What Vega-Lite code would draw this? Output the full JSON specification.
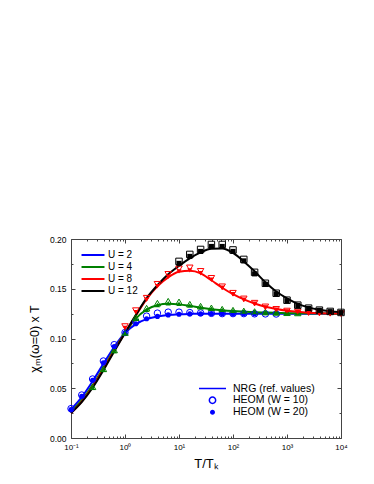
{
  "$schema": "https://vega.github.io/schema/vega-lite/v6.json",
  "width": 270,
  "height": 199,
  "autosize": "none",
  "padding": {"left": 71, "top": 239, "right": 33, "bottom": 46},
  "background": "white",
  "config": {
    "font": "Liberation Sans",
    "view": {"stroke": null},
    "axis": {"grid": false, "domainColor": "#444", "tickColor": "#444", "labelColor": "black", "titleColor": "black", "titleFontWeight": "normal", "labelFont": "Liberation Sans", "titleFont": "Liberation Sans"},
    "legend": {"labelFont": "Liberation Sans", "labelColor": "black"}
  },
  "datasets": {
    "lines": [
      {"U": "U = 2", "x": 0.1, "v": 0.0285}, {"U": "U = 2", "x": 0.158, "v": 0.041}, {"U": "U = 2", "x": 0.251, "v": 0.057}, {"U": "U = 2", "x": 0.398, "v": 0.0745}, {"U": "U = 2", "x": 0.631, "v": 0.0915}, {"U": "U = 2", "x": 1, "v": 0.1055}, {"U": "U = 2", "x": 1.585, "v": 0.1145}, {"U": "U = 2", "x": 2.512, "v": 0.1195}, {"U": "U = 2", "x": 3.981, "v": 0.122}, {"U": "U = 2", "x": 6.31, "v": 0.1235}, {"U": "U = 2", "x": 10, "v": 0.1243}, {"U": "U = 2", "x": 15.85, "v": 0.1247}, {"U": "U = 2", "x": 25.12, "v": 0.1249}, {"U": "U = 2", "x": 39.81, "v": 0.125}, {"U": "U = 2", "x": 63.1, "v": 0.125}, {"U": "U = 2", "x": 100, "v": 0.125}, {"U": "U = 2", "x": 158.5, "v": 0.125}, {"U": "U = 2", "x": 251.2, "v": 0.125}, {"U": "U = 2", "x": 398.1, "v": 0.125}, {"U": "U = 2", "x": 631, "v": 0.125}, {"U": "U = 2", "x": 1000, "v": 0.125}, {"U": "U = 2", "x": 1585, "v": 0.125}, {"U": "U = 2", "x": 2512, "v": 0.125}, {"U": "U = 2", "x": 3981, "v": 0.125}, {"U": "U = 2", "x": 6310, "v": 0.125}, {"U": "U = 2", "x": 10000, "v": 0.125},
      {"U": "U = 4", "x": 0.1, "v": 0.026}, {"U": "U = 4", "x": 0.158, "v": 0.038}, {"U": "U = 4", "x": 0.251, "v": 0.053}, {"U": "U = 4", "x": 0.398, "v": 0.0705}, {"U": "U = 4", "x": 0.631, "v": 0.089}, {"U": "U = 4", "x": 1, "v": 0.1055}, {"U": "U = 4", "x": 1.585, "v": 0.12}, {"U": "U = 4", "x": 2.512, "v": 0.129}, {"U": "U = 4", "x": 3.981, "v": 0.1335}, {"U": "U = 4", "x": 6.31, "v": 0.1348}, {"U": "U = 4", "x": 10, "v": 0.1343}, {"U": "U = 4", "x": 15.85, "v": 0.1328}, {"U": "U = 4", "x": 25.12, "v": 0.131}, {"U": "U = 4", "x": 39.81, "v": 0.1295}, {"U": "U = 4", "x": 63.1, "v": 0.1284}, {"U": "U = 4", "x": 100, "v": 0.1276}, {"U": "U = 4", "x": 158.5, "v": 0.127}, {"U": "U = 4", "x": 251.2, "v": 0.1265}, {"U": "U = 4", "x": 398.1, "v": 0.1261}, {"U": "U = 4", "x": 631, "v": 0.1258}, {"U": "U = 4", "x": 1000, "v": 0.1255}, {"U": "U = 4", "x": 1585, "v": 0.1253}, {"U": "U = 4", "x": 2512, "v": 0.1252}, {"U": "U = 4", "x": 3981, "v": 0.1251}, {"U": "U = 4", "x": 6310, "v": 0.125}, {"U": "U = 4", "x": 10000, "v": 0.125},
      {"U": "U = 8", "x": 0.1, "v": 0.025}, {"U": "U = 8", "x": 0.158, "v": 0.0365}, {"U": "U = 8", "x": 0.251, "v": 0.0515}, {"U": "U = 8", "x": 0.398, "v": 0.069}, {"U": "U = 8", "x": 0.631, "v": 0.088}, {"U": "U = 8", "x": 1, "v": 0.1055}, {"U": "U = 8", "x": 1.585, "v": 0.123}, {"U": "U = 8", "x": 2.512, "v": 0.1395}, {"U": "U = 8", "x": 3.981, "v": 0.1525}, {"U": "U = 8", "x": 6.31, "v": 0.1615}, {"U": "U = 8", "x": 10, "v": 0.167}, {"U": "U = 8", "x": 15.85, "v": 0.168}, {"U": "U = 8", "x": 25.12, "v": 0.1655}, {"U": "U = 8", "x": 39.81, "v": 0.1585}, {"U": "U = 8", "x": 63.1, "v": 0.151}, {"U": "U = 8", "x": 100, "v": 0.1445}, {"U": "U = 8", "x": 158.5, "v": 0.1393}, {"U": "U = 8", "x": 251.2, "v": 0.1352}, {"U": "U = 8", "x": 398.1, "v": 0.132}, {"U": "U = 8", "x": 631, "v": 0.1297}, {"U": "U = 8", "x": 1000, "v": 0.128}, {"U": "U = 8", "x": 1585, "v": 0.1268}, {"U": "U = 8", "x": 2512, "v": 0.126}, {"U": "U = 8", "x": 3981, "v": 0.1255}, {"U": "U = 8", "x": 6310, "v": 0.1252}, {"U": "U = 8", "x": 10000, "v": 0.125},
      {"U": "U = 12", "x": 0.1, "v": 0.025}, {"U": "U = 12", "x": 0.158, "v": 0.036}, {"U": "U = 12", "x": 0.251, "v": 0.0505}, {"U": "U = 12", "x": 0.398, "v": 0.068}, {"U": "U = 12", "x": 0.631, "v": 0.087}, {"U": "U = 12", "x": 1, "v": 0.1055}, {"U": "U = 12", "x": 1.585, "v": 0.1235}, {"U": "U = 12", "x": 2.512, "v": 0.1405}, {"U": "U = 12", "x": 3.981, "v": 0.1535}, {"U": "U = 12", "x": 6.31, "v": 0.1645}, {"U": "U = 12", "x": 10, "v": 0.173}, {"U": "U = 12", "x": 15.85, "v": 0.1805}, {"U": "U = 12", "x": 25.12, "v": 0.1865}, {"U": "U = 12", "x": 39.81, "v": 0.1902}, {"U": "U = 12", "x": 63.1, "v": 0.1905}, {"U": "U = 12", "x": 100, "v": 0.186}, {"U": "U = 12", "x": 158.5, "v": 0.1775}, {"U": "U = 12", "x": 251.2, "v": 0.1675}, {"U": "U = 12", "x": 398.1, "v": 0.1565}, {"U": "U = 12", "x": 631, "v": 0.1472}, {"U": "U = 12", "x": 1000, "v": 0.1403}, {"U": "U = 12", "x": 1585, "v": 0.1348}, {"U": "U = 12", "x": 2512, "v": 0.1313}, {"U": "U = 12", "x": 3981, "v": 0.129}, {"U": "U = 12", "x": 6310, "v": 0.1275}, {"U": "U = 12", "x": 10000, "v": 0.1265}
    ],
    "pts": [
      {"U": "U = 2", "W": 10, "x": 0.1, "v": 0.0295}, {"U": "U = 2", "W": 10, "x": 0.158, "v": 0.0432}, {"U": "U = 2", "W": 10, "x": 0.251, "v": 0.0593}, {"U": "U = 2", "W": 10, "x": 0.398, "v": 0.0774}, {"U": "U = 2", "W": 10, "x": 0.631, "v": 0.0938}, {"U": "U = 2", "W": 10, "x": 1, "v": 0.106}, {"U": "U = 2", "W": 10, "x": 1.585, "v": 0.1165}, {"U": "U = 2", "W": 10, "x": 2.512, "v": 0.1225}, {"U": "U = 2", "W": 10, "x": 3.981, "v": 0.1255}, {"U": "U = 2", "W": 10, "x": 6.31, "v": 0.1265}, {"U": "U = 2", "W": 10, "x": 10, "v": 0.1265}, {"U": "U = 2", "W": 10, "x": 15.85, "v": 0.126}, {"U": "U = 2", "W": 10, "x": 25.12, "v": 0.1257}, {"U": "U = 2", "W": 10, "x": 39.81, "v": 0.1253}, {"U": "U = 2", "W": 10, "x": 63.1, "v": 0.125}, {"U": "U = 2", "W": 10, "x": 100, "v": 0.125}, {"U": "U = 2", "W": 10, "x": 158.5, "v": 0.125}, {"U": "U = 2", "W": 10, "x": 251.2, "v": 0.1248}, {"U": "U = 2", "W": 10, "x": 398.1, "v": 0.1247}, {"U": "U = 2", "W": 10, "x": 631, "v": 0.1246},
      {"U": "U = 2", "W": 20, "x": 0.1, "v": 0.0285}, {"U": "U = 2", "W": 20, "x": 0.158, "v": 0.042}, {"U": "U = 2", "W": 20, "x": 0.251, "v": 0.058}, {"U": "U = 2", "W": 20, "x": 0.398, "v": 0.0755}, {"U": "U = 2", "W": 20, "x": 0.631, "v": 0.092}, {"U": "U = 2", "W": 20, "x": 1, "v": 0.1055}, {"U": "U = 2", "W": 20, "x": 1.585, "v": 0.1148}, {"U": "U = 2", "W": 20, "x": 2.512, "v": 0.1198}, {"U": "U = 2", "W": 20, "x": 3.981, "v": 0.1222}, {"U": "U = 2", "W": 20, "x": 6.31, "v": 0.1237}, {"U": "U = 2", "W": 20, "x": 10, "v": 0.1244}, {"U": "U = 2", "W": 20, "x": 15.85, "v": 0.1247}, {"U": "U = 2", "W": 20, "x": 25.12, "v": 0.1249}, {"U": "U = 2", "W": 20, "x": 39.81, "v": 0.125}, {"U": "U = 2", "W": 20, "x": 63.1, "v": 0.125}, {"U": "U = 2", "W": 20, "x": 100, "v": 0.125}, {"U": "U = 2", "W": 20, "x": 158.5, "v": 0.125}, {"U": "U = 2", "W": 20, "x": 251.2, "v": 0.125},
      {"U": "U = 4", "W": 10, "x": 0.251, "v": 0.0515}, {"U": "U = 4", "W": 10, "x": 0.398, "v": 0.0695}, {"U": "U = 4", "W": 10, "x": 0.631, "v": 0.0885}, {"U": "U = 4", "W": 10, "x": 1, "v": 0.106}, {"U": "U = 4", "W": 10, "x": 1.585, "v": 0.121}, {"U": "U = 4", "W": 10, "x": 2.512, "v": 0.1305}, {"U": "U = 4", "W": 10, "x": 3.981, "v": 0.1355}, {"U": "U = 4", "W": 10, "x": 6.31, "v": 0.1375}, {"U": "U = 4", "W": 10, "x": 10, "v": 0.1368}, {"U": "U = 4", "W": 10, "x": 15.85, "v": 0.1345}, {"U": "U = 4", "W": 10, "x": 25.12, "v": 0.1325}, {"U": "U = 4", "W": 10, "x": 39.81, "v": 0.1308}, {"U": "U = 4", "W": 10, "x": 63.1, "v": 0.1295}, {"U": "U = 4", "W": 10, "x": 100, "v": 0.1285}, {"U": "U = 4", "W": 10, "x": 158.5, "v": 0.1277}, {"U": "U = 4", "W": 10, "x": 251.2, "v": 0.1271}, {"U": "U = 4", "W": 10, "x": 398.1, "v": 0.1266}, {"U": "U = 4", "W": 10, "x": 631, "v": 0.1262}, {"U": "U = 4", "W": 10, "x": 1000, "v": 0.1259}, {"U": "U = 4", "W": 10, "x": 1585, "v": 0.1257},
      {"U": "U = 4", "W": 20, "x": 0.251, "v": 0.0505}, {"U": "U = 4", "W": 20, "x": 0.398, "v": 0.0685}, {"U": "U = 4", "W": 20, "x": 0.631, "v": 0.0875}, {"U": "U = 4", "W": 20, "x": 1, "v": 0.1052}, {"U": "U = 4", "W": 20, "x": 1.585, "v": 0.1198}, {"U": "U = 4", "W": 20, "x": 2.512, "v": 0.1288}, {"U": "U = 4", "W": 20, "x": 3.981, "v": 0.1337}, {"U": "U = 4", "W": 20, "x": 6.31, "v": 0.1355}, {"U": "U = 4", "W": 20, "x": 10, "v": 0.135}, {"U": "U = 4", "W": 20, "x": 15.85, "v": 0.1333}, {"U": "U = 4", "W": 20, "x": 25.12, "v": 0.1315}, {"U": "U = 4", "W": 20, "x": 39.81, "v": 0.13}, {"U": "U = 4", "W": 20, "x": 63.1, "v": 0.1288}, {"U": "U = 4", "W": 20, "x": 100, "v": 0.1279}, {"U": "U = 4", "W": 20, "x": 158.5, "v": 0.1272}, {"U": "U = 4", "W": 20, "x": 251.2, "v": 0.1266}, {"U": "U = 4", "W": 20, "x": 398.1, "v": 0.1262}, {"U": "U = 4", "W": 20, "x": 631, "v": 0.1258}, {"U": "U = 4", "W": 20, "x": 1000, "v": 0.1255}, {"U": "U = 4", "W": 20, "x": 1585, "v": 0.1253},
      {"U": "U = 8", "W": 10, "x": 1, "v": 0.112}, {"U": "U = 8", "W": 10, "x": 1.585, "v": 0.128}, {"U": "U = 8", "W": 10, "x": 2.512, "v": 0.1405}, {"U": "U = 8", "W": 10, "x": 3.981, "v": 0.1545}, {"U": "U = 8", "W": 10, "x": 6.31, "v": 0.1645}, {"U": "U = 8", "W": 10, "x": 10, "v": 0.17}, {"U": "U = 8", "W": 10, "x": 15.85, "v": 0.171}, {"U": "U = 8", "W": 10, "x": 25.12, "v": 0.1675}, {"U": "U = 8", "W": 10, "x": 39.81, "v": 0.1605}, {"U": "U = 8", "W": 10, "x": 63.1, "v": 0.152}, {"U": "U = 8", "W": 10, "x": 100, "v": 0.1455}, {"U": "U = 8", "W": 10, "x": 158.5, "v": 0.1398}, {"U": "U = 8", "W": 10, "x": 251.2, "v": 0.1355}, {"U": "U = 8", "W": 10, "x": 398.1, "v": 0.1318}, {"U": "U = 8", "W": 10, "x": 631, "v": 0.1293}, {"U": "U = 8", "W": 10, "x": 1000, "v": 0.1276}, {"U": "U = 8", "W": 10, "x": 1585, "v": 0.1266}, {"U": "U = 8", "W": 10, "x": 2512, "v": 0.126}, {"U": "U = 8", "W": 10, "x": 3981, "v": 0.1256}, {"U": "U = 8", "W": 10, "x": 6310, "v": 0.1253}, {"U": "U = 8", "W": 10, "x": 10000, "v": 0.125},
      {"U": "U = 8", "W": 20, "x": 1, "v": 0.1105}, {"U": "U = 8", "W": 20, "x": 1.585, "v": 0.1265}, {"U": "U = 8", "W": 20, "x": 2.512, "v": 0.139}, {"U": "U = 8", "W": 20, "x": 3.981, "v": 0.1525}, {"U": "U = 8", "W": 20, "x": 6.31, "v": 0.162}, {"U": "U = 8", "W": 20, "x": 10, "v": 0.1675}, {"U": "U = 8", "W": 20, "x": 15.85, "v": 0.1685}, {"U": "U = 8", "W": 20, "x": 25.12, "v": 0.1655}, {"U": "U = 8", "W": 20, "x": 39.81, "v": 0.159}, {"U": "U = 8", "W": 20, "x": 63.1, "v": 0.151}, {"U": "U = 8", "W": 20, "x": 100, "v": 0.1445}, {"U": "U = 8", "W": 20, "x": 158.5, "v": 0.139}, {"U": "U = 8", "W": 20, "x": 251.2, "v": 0.135}, {"U": "U = 8", "W": 20, "x": 398.1, "v": 0.1313}, {"U": "U = 8", "W": 20, "x": 631, "v": 0.129}, {"U": "U = 8", "W": 20, "x": 1000, "v": 0.1273}, {"U": "U = 8", "W": 20, "x": 1585, "v": 0.1263}, {"U": "U = 8", "W": 20, "x": 2512, "v": 0.1257}, {"U": "U = 8", "W": 20, "x": 3981, "v": 0.1252}, {"U": "U = 8", "W": 20, "x": 6310, "v": 0.125}, {"U": "U = 8", "W": 20, "x": 10000, "v": 0.1248},
      {"U": "U = 12", "W": 10, "x": 10, "v": 0.1775}, {"U": "U = 12", "W": 10, "x": 15.85, "v": 0.1845}, {"U": "U = 12", "W": 10, "x": 25.12, "v": 0.1895}, {"U": "U = 12", "W": 10, "x": 39.81, "v": 0.1945}, {"U": "U = 12", "W": 10, "x": 63.1, "v": 0.1945}, {"U": "U = 12", "W": 10, "x": 100, "v": 0.189}, {"U": "U = 12", "W": 10, "x": 158.5, "v": 0.1795}, {"U": "U = 12", "W": 10, "x": 251.2, "v": 0.1665}, {"U": "U = 12", "W": 10, "x": 398.1, "v": 0.1555}, {"U": "U = 12", "W": 10, "x": 631, "v": 0.1455}, {"U": "U = 12", "W": 10, "x": 1000, "v": 0.1385}, {"U": "U = 12", "W": 10, "x": 1585, "v": 0.1335}, {"U": "U = 12", "W": 10, "x": 2512, "v": 0.1305}, {"U": "U = 12", "W": 10, "x": 3981, "v": 0.1285}, {"U": "U = 12", "W": 10, "x": 6310, "v": 0.1272}, {"U": "U = 12", "W": 10, "x": 10000, "v": 0.1262},
      {"U": "U = 12", "W": 20, "x": 10, "v": 0.1755}, {"U": "U = 12", "W": 20, "x": 15.85, "v": 0.1825}, {"U": "U = 12", "W": 20, "x": 25.12, "v": 0.1875}, {"U": "U = 12", "W": 20, "x": 39.81, "v": 0.1925}, {"U": "U = 12", "W": 20, "x": 63.1, "v": 0.1925}, {"U": "U = 12", "W": 20, "x": 100, "v": 0.1875}, {"U": "U = 12", "W": 20, "x": 158.5, "v": 0.178}, {"U": "U = 12", "W": 20, "x": 251.2, "v": 0.165}, {"U": "U = 12", "W": 20, "x": 398.1, "v": 0.1545}, {"U": "U = 12", "W": 20, "x": 631, "v": 0.1448}, {"U": "U = 12", "W": 20, "x": 1000, "v": 0.138}, {"U": "U = 12", "W": 20, "x": 1585, "v": 0.1332}, {"U": "U = 12", "W": 20, "x": 2512, "v": 0.1302}, {"U": "U = 12", "W": 20, "x": 3981, "v": 0.1283}, {"U": "U = 12", "W": 20, "x": 6310, "v": 0.127}, {"U": "U = 12", "W": 20, "x": 10000, "v": 0.126}
    ]
  },
  "layer": [
    {
      "data": {"name": "lines"},
      "mark": {"type": "line", "strokeWidth": 2, "interpolate": "monotone"},
      "encoding": {
        "x": {"field": "x", "type": "quantitative", "scale": {"type": "log", "domain": [0.1, 10000], "nice": false}, "axis": null},
        "y": {"field": "v", "type": "quantitative", "scale": {"domain": [0, 0.2], "nice": false}, "axis": null},
        "color": {"field": "U", "type": "nominal",
          "scale": {"domain": ["U = 2", "U = 4", "U = 8", "U = 12"], "range": ["#0000ff", "#008000", "#ff0000", "#000000"]},
          "legend": {"title": null, "orient": "none", "legendX": 15, "legendY": 9, "symbolType": "M-2,0H2", "symbolSize": 132, "symbolStrokeWidth": 2, "labelFontSize": 10, "labelOffset": 8, "rowPadding": 0, "padding": 0}}
      }
    },
    {"data": {"name": "pts"}, "transform": [{"filter": "datum.W == 10 && datum.U == 'U = 2'"}], "mark": {"type": "point", "shape": "circle", "filled": false, "strokeWidth": 1, "size": 42, "opacity": 1},
      "encoding": {"x": {"field": "x", "type": "quantitative", "axis": null}, "y": {"field": "v", "type": "quantitative", "axis": null}, "color": {"field": "U", "type": "nominal", "legend": null}}},
    {"data": {"name": "pts"}, "transform": [{"filter": "datum.W == 10 && datum.U == 'U = 4'"}], "mark": {"type": "point", "shape": "triangle-up", "filled": false, "strokeWidth": 1, "size": 42, "opacity": 1},
      "encoding": {"x": {"field": "x", "type": "quantitative", "axis": null}, "y": {"field": "v", "type": "quantitative", "axis": null}, "color": {"field": "U", "type": "nominal", "legend": null}}},
    {"data": {"name": "pts"}, "transform": [{"filter": "datum.W == 10 && datum.U == 'U = 8'"}], "mark": {"type": "point", "shape": "triangle-down", "filled": false, "strokeWidth": 1, "size": 42, "opacity": 1},
      "encoding": {"x": {"field": "x", "type": "quantitative", "axis": null}, "y": {"field": "v", "type": "quantitative", "axis": null}, "color": {"field": "U", "type": "nominal", "legend": null}}},
    {"data": {"name": "pts"}, "transform": [{"filter": "datum.W == 10 && datum.U == 'U = 12'"}], "mark": {"type": "point", "shape": "square", "filled": false, "strokeWidth": 1, "size": 42, "opacity": 1},
      "encoding": {"x": {"field": "x", "type": "quantitative", "axis": null}, "y": {"field": "v", "type": "quantitative", "axis": null}, "color": {"field": "U", "type": "nominal", "legend": null}}},
    {"data": {"name": "pts"}, "transform": [{"filter": "datum.W == 20 && datum.U == 'U = 2'"}], "mark": {"type": "point", "shape": "circle", "filled": true, "size": 26, "opacity": 1},
      "encoding": {"x": {"field": "x", "type": "quantitative", "axis": null}, "y": {"field": "v", "type": "quantitative", "axis": null}, "color": {"field": "U", "type": "nominal", "legend": null}}},
    {"data": {"name": "pts"}, "transform": [{"filter": "datum.W == 20 && datum.U == 'U = 4'"}], "mark": {"type": "point", "shape": "triangle-up", "filled": true, "size": 26, "opacity": 1},
      "encoding": {"x": {"field": "x", "type": "quantitative", "axis": null}, "y": {"field": "v", "type": "quantitative", "axis": null}, "color": {"field": "U", "type": "nominal", "legend": null}}},
    {"data": {"name": "pts"}, "transform": [{"filter": "datum.W == 20 && datum.U == 'U = 8'"}], "mark": {"type": "point", "shape": "triangle-down", "filled": true, "size": 26, "opacity": 1},
      "encoding": {"x": {"field": "x", "type": "quantitative", "axis": null}, "y": {"field": "v", "type": "quantitative", "axis": null}, "color": {"field": "U", "type": "nominal", "legend": null}}},
    {"data": {"name": "pts"}, "transform": [{"filter": "datum.W == 20 && datum.U == 'U = 12'"}], "mark": {"type": "point", "shape": "square", "filled": true, "size": 26, "opacity": 1},
      "encoding": {"x": {"field": "x", "type": "quantitative", "axis": null}, "y": {"field": "v", "type": "quantitative", "axis": null}, "color": {"field": "U", "type": "nominal", "legend": null}}},
    {
      "data": {"values": []},
      "mark": {"type": "point", "strokeWidth": 1.5, "opacity": 1},
      "encoding": {
        "shape": {"field": "m", "type": "nominal", "scale": {"domain": ["NRG (ref. values)", "HEOM (W = 10)", "HEOM (W = 20)"], "range": ["M-2,0H2", "circle", "circle"]},
          "legend": {"title": null, "orient": "none", "legendX": 134, "legendY": 142, "labelFontSize": 10.5, "labelOffset": 13, "rowPadding": 0, "padding": 0, "symbolStrokeWidth": 1.5}},
        "fill": {"field": "m", "type": "nominal", "scale": {"domain": ["NRG (ref. values)", "HEOM (W = 10)", "HEOM (W = 20)"], "range": ["transparent", "transparent", "#0000ff"]},
          "legend": {"title": null, "orient": "none", "legendX": 134, "legendY": 142, "labelFontSize": 10.5, "labelOffset": 13, "rowPadding": 0, "padding": 0, "symbolStrokeWidth": 1.5}},
        "stroke": {"field": "m", "type": "nominal", "scale": {"domain": ["NRG (ref. values)", "HEOM (W = 10)", "HEOM (W = 20)"], "range": ["#0000ff", "#0000ff", "#0000ff"]},
          "legend": {"title": null, "orient": "none", "legendX": 134, "legendY": 142, "labelFontSize": 10.5, "labelOffset": 13, "rowPadding": 0, "padding": 0, "symbolStrokeWidth": 1.5}},
        "size": {"field": "m", "type": "nominal", "scale": {"type": "ordinal", "domain": ["NRG (ref. values)", "HEOM (W = 10)", "HEOM (W = 20)"], "range": [182, 40, 12]},
          "legend": {"title": null, "orient": "none", "legendX": 134, "legendY": 142, "labelFontSize": 10.5, "labelOffset": 13, "rowPadding": 0, "padding": 0, "symbolStrokeWidth": 1.5}}
      }
    },
    {
      "data": {"values": []},
      "mark": {"type": "point", "opacity": 0},
      "encoding": {
        "x": {"field": "x", "type": "quantitative", "scale": {"type": "log", "domain": [0.1, 10000], "nice": false},
          "axis": {"orient": "bottom", "values": [0.1,0.2,0.3,0.4,0.5,0.6,0.7,0.8,0.9,1,2,3,4,5,6,7,8,9,10,20,30,40,50,60,70,80,90,100,200,300,400,500,600,700,800,900,1000,2000,3000,4000,5000,6000,7000,8000,9000,10000],
            "labelExpr": "datum.value == 0.1 ? '10⁻¹' : datum.value == 1 ? '10⁰' : datum.value == 10 ? '10¹' : datum.value == 100 ? '10²' : datum.value == 1000 ? '10³' : datum.value == 10000 ? '10⁴' : ''",
            "tickSize": {"condition": {"test": "indexof([0.1,1,10,100,1000,10000], datum.value) >= 0", "value": -4}, "value": -2},
            "labelPadding": 9, "labelFontSize": 8, "labelFlush": false, "labelOverlap": false,
            "title": "T/Tₖ", "titleFontSize": 13, "titlePadding": 4}},
        "y": {"field": "v", "type": "quantitative", "scale": {"domain": [0, 0.2], "nice": false},
          "axis": {"orient": "left", "values": [0,0.025,0.05,0.075,0.1,0.125,0.15,0.175,0.2],
            "labelExpr": "round(datum.value*1000) % 50 == 0 ? format(datum.value, '.2f') : ''",
            "tickSize": {"condition": {"test": "round(datum.value*1000) % 50 == 0", "value": -4}, "value": -2},
            "labelPadding": 9, "labelFontSize": 8.5, "labelFlush": false, "labelOverlap": false,
            "title": "χₘ(ω=0) x T", "titleFontSize": 12.5, "titlePadding": 8}}
      }
    },
    {
      "data": {"values": []},
      "mark": {"type": "point", "opacity": 0},
      "encoding": {
        "x": {"field": "x", "type": "quantitative", "scale": {"type": "log", "domain": [0.1, 10000], "nice": false},
          "axis": {"orient": "top", "values": [0.1,0.2,0.3,0.4,0.5,0.6,0.7,0.8,0.9,1,2,3,4,5,6,7,8,9,10,20,30,40,50,60,70,80,90,100,200,300,400,500,600,700,800,900,1000,2000,3000,4000,5000,6000,7000,8000,9000,10000],
            "labels": false, "title": null,
            "tickSize": {"condition": {"test": "indexof([0.1,1,10,100,1000,10000], datum.value) >= 0", "value": -4}, "value": -2}}},
        "y": {"field": "v", "type": "quantitative", "scale": {"domain": [0, 0.2], "nice": false},
          "axis": {"orient": "right", "values": [0,0.025,0.05,0.075,0.1,0.125,0.15,0.175,0.2], "labels": false, "title": null,
            "tickSize": {"condition": {"test": "round(datum.value*1000) % 50 == 0", "value": -4}, "value": -2}}}
      }
    }
  ],
  "resolve": {"axis": {"x": "independent", "y": "independent"}}
}
